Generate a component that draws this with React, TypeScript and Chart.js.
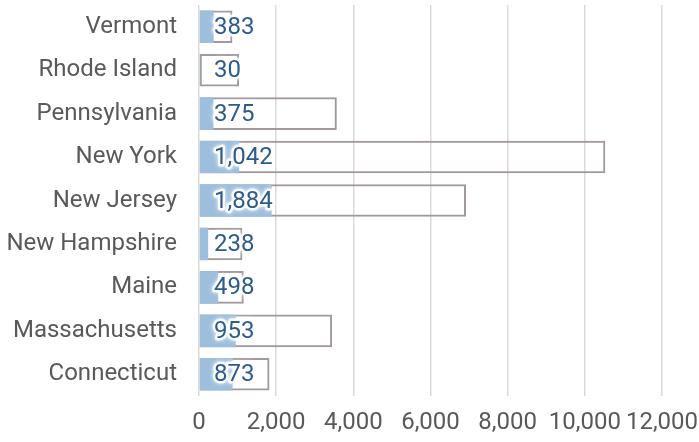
import React, { useEffect, useRef } from "react";
import { Chart, registerables } from "chart.js";

Chart.register(...registerables);

const categories = ["Vermont", "Rhode Island", "Pennsylvania", "New York", "New Jersey", "New Hampshire", "Maine", "Massachusetts", "Connecticut"];
const values = [383, 30, 375, 1042, 1884, 238, 498, 953, 873];
const totals = [866, 1038, 3572, 10530, 6920, 1125, 1160, 3450, 1826];
const xTicks = [0, 2000, 4000, 6000, 8000, 10000, 12000];

const FONT = "Roboto";

const labelPlugin = {
  id: "insideBaseLabels",
  afterDatasetsDraw(chart: any) {
    const ctx = chart.ctx;
    const meta = chart.getDatasetMeta(0);
    const left = chart.chartArea.left;
    ctx.save();
    ctx.font = `24px ${FONT}`;
    ctx.textAlign = "left";
    ctx.textBaseline = "middle";
    meta.data.forEach((bar: any, i: number) => {
      const txt = values[i].toLocaleString("en-US");
      const x = left + 15;
      const y = bar.y + 1;
      ctx.lineJoin = "round";
      ctx.strokeStyle = "rgba(255,255,255,0.85)";
      ctx.lineWidth = 5;
      ctx.shadowColor = "rgba(255,255,255,1)";
      ctx.shadowBlur = 4;
      ctx.strokeText(txt, x, y);
      ctx.shadowBlur = 0;
      ctx.fillStyle = "#2F5B85";
      ctx.fillText(txt, x, y);
    });
    ctx.restore();
  },
};

export default function App() {
  const ref = useRef<HTMLCanvasElement>(null);
  useEffect(() => {
    document.body.style.margin = "0";
    const chart = new Chart(ref.current!, {
      type: "bar",
      data: {
        labels: categories,
        datasets: [
          {
            data: values,
            backgroundColor: "#9EBFDC",
            borderWidth: 0,
            grouped: false,
            barPercentage: 1,
            categoryPercentage: 0.75,
          } as any,
          {
            data: totals,
            backgroundColor: "rgba(0,0,0,0)",
            borderColor: "#A29A9A",
            borderWidth: 2,
            borderSkipped: false,
            grouped: false,
            barPercentage: 1,
            categoryPercentage: 0.75,
          } as any,
        ],
      },
      options: {
        indexAxis: "y",
        animation: false,
        responsive: false,
        maintainAspectRatio: false,
        layout: { padding: { left: 0, right: 37, top: 5, bottom: 0 } },
        plugins: { legend: { display: false }, tooltip: { enabled: false } },
        scales: {
          x: {
            min: 0,
            max: 12000,
            afterBuildTicks: (s: any) => {
              s.ticks = xTicks.map((v) => ({ value: v }));
            },
            grid: { color: "#D9D9D9", lineWidth: 1.5, drawTicks: false },
            border: { display: false },
            ticks: {
              color: "#595959",
              font: { family: FONT, size: 24 },
              padding: 13,
              maxRotation: 0,
              minRotation: 0,
              autoSkip: false,
              callback: (v: any) => Number(v).toLocaleString("en-US"),
            },
            afterFit: (s: any) => {
              s.height = 46;
              s.paddingLeft = 0;
              s.paddingRight = 0;
            },
          },
          y: {
            grid: { display: false, drawTicks: false },
            border: { display: false },
            ticks: {
              color: "#595959",
              font: { family: FONT, size: 24 },
              padding: 22,
            },
            afterFit: (s: any) => {
              s.width = 199;
              s.paddingTop = 0;
              s.paddingBottom = 0;
            },
          },
        },
      },
      plugins: [labelPlugin],
    });
    return () => chart.destroy();
  }, []);
  return (
    <div style={{ position: "fixed", left: 0, top: 0, width: 699, height: 442 }}>
      <canvas ref={ref} width={699} height={442} style={{ display: "block" }} />
    </div>
  );
}
